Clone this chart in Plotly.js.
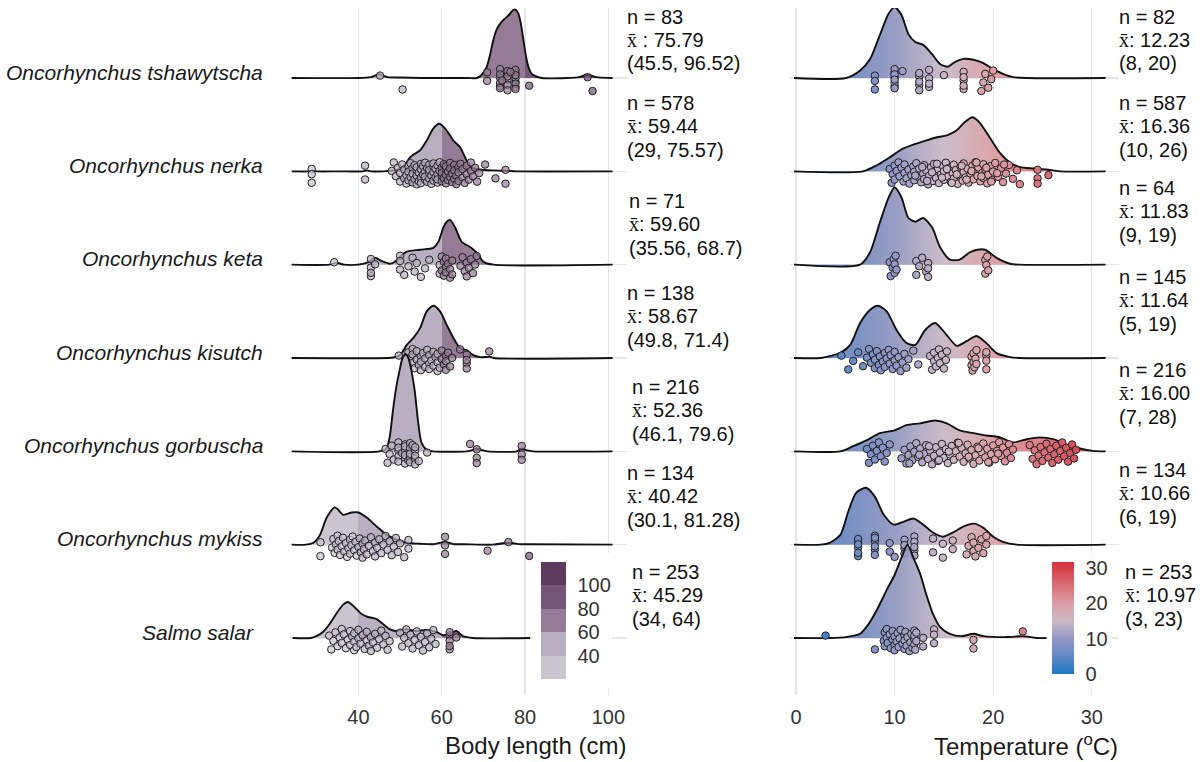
<!DOCTYPE html>
<html>
<head>
<meta charset="utf-8">
<script src="https://cdn.plot.ly/plotly-3.0.1.min.js"></script>
<style>
  html, body { margin: 0; padding: 0; background: #ffffff; }
  #chart { width: 1202px; height: 762px; }
</style>
</head>
<body>
<div id="chart"></div>
<script>
// ---------- species (top to bottom) ----------
const species = [
  'Oncorhynchus tshawytscha', 'Oncorhynchus nerka', 'Oncorhynchus keta',
  'Oncorhynchus kisutch', 'Oncorhynchus gorbuscha', 'Oncorhynchus mykiss', 'Salmo salar'
];

// ---------- summary statistics ----------
const lenN    = [83, 578, 71, 138, 216, 134, 253];
const lenMean = [75.79, 59.44, 59.60, 58.67, 52.36, 40.42, 45.29];
const lenMin  = [45.5, 29, 35.56, 49.8, 46.1, 30.1, 34];
const lenMax  = [96.52, 75.57, 68.7, 71.4, 79.6, 81.28, 64];

const tempN    = [82, 587, 64, 145, 216, 134, 253];
const tempMean = [12.23, 16.36, 11.83, 11.64, 16.00, 10.66, 10.97];
const tempMin  = [8, 10, 9, 5, 7, 6, 3];
const tempMax  = [20, 26, 19, 19, 28, 19, 23];

// ---------- body length: ridge densities (height in row units) ----------
const lenTshaX = [24,40,43,45,47,50,55,66,68.4,69.5,70.8,71.6,72.4,73.2,74,75,76,77.2,77.8,78.4,79,79.6,80.2,80.8,81.5,82.5,84,90,93,95,97,101];
const lenTshaH = [0,0,0.01,0.04,0.01,0.005,0,0,0,0.03,0.12,0.25,0.41,0.52,0.58,0.63,0.67,0.73,0.73,0.69,0.58,0.41,0.24,0.12,0.05,0.02,0,0,0.01,0.035,0.01,0];
const lenNerkX = [24,28,29,30,35,41,42,43,46,48.4,50,51.2,52.4,53.6,54.8,56.4,58,59.4,60.8,62,62.8,64.4,65.6,66.4,67.2,69.2,72.4,75.6,78,101];
const lenNerkH = [0,0,0.01,0,0,0,0.01,0,0,0.01,0.03,0.075,0.15,0.19,0.225,0.33,0.46,0.51,0.46,0.385,0.33,0.26,0.15,0.085,0.04,0.02,0.01,0.005,0,0];
const lenKetaX = [24,33,34.8,36.5,40,42.5,44,45.5,47.6,49,50,51.6,54.8,58,59.2,60.4,61.2,62,63.2,64.8,66.8,68.4,70,72.4,101];
const lenKetaH = [0,0,0.02,0,0,0.03,0.075,0.04,0.01,0.04,0.085,0.14,0.16,0.18,0.245,0.4,0.46,0.48,0.4,0.245,0.19,0.13,0.03,0,0];
const lenKisuX = [24,47,48.4,50,51.6,53.2,54.8,56.4,58,59.6,61.2,62.8,64.4,66,67.6,69.2,70.5,71.5,72.5,101];
const lenKisuH = [0,0,0.005,0.03,0.14,0.215,0.32,0.5,0.56,0.5,0.355,0.215,0.105,0.085,0.03,0.01,0.01,0.015,0,0];
const lenGorbX = [24,45,46.7,47.5,48.3,49.1,49.9,50.6,51.3,52,52.7,53.5,54.3,55.1,56.3,57.9,66,67.5,68.4,69.5,71,78,79.2,80.5,82,101];
const lenGorbH = [0,0,0.03,0.15,0.44,0.69,0.87,1.0,1.04,1.0,0.87,0.655,0.33,0.1,0.02,0,0,0.015,0.03,0.015,0,0,0.03,0.01,0,0];
const lenMykiX = [24,27.5,29.2,30.8,32.4,34.4,36.4,38.4,40,42,44.4,46.8,49.2,51.6,54.8,58,60.8,63,65.2,72,76,79,81.2,101];
const lenMykiH = [0,0,0.02,0.105,0.29,0.4,0.32,0.345,0.345,0.29,0.195,0.105,0.055,0.02,0.01,0.005,0.03,0.005,0.005,0,0.02,0.005,0.005,0];
const lenSalaX = [24.2,28.5,29.9,31.5,33.1,34.7,36.3,37.5,39.1,40.7,42.3,44.3,45.9,47.5,49.1,51.5,53.9,56.3,58.7,60.3,61.9,63.5,65.1,67.5,81.2];
const lenSalaH = [0,0,0.02,0.065,0.15,0.26,0.355,0.385,0.33,0.26,0.225,0.205,0.15,0.095,0.075,0.095,0.075,0.085,0.065,0.03,0.045,0.075,0.02,0,0];

// ---------- body length: observations ----------
const lenTshaPts = [45.2,50.6,70.9,70.9,74,74,74,74,74,74,75.8,75.8,75.8,75.8,75.8,77.7,77.7,77.7,77.7,77.7,77.7,77.7,77.7,74.5,76.5,81,95,96.2];
const lenNerkPts = [28.8,28.8,28.8,41.6,41.6,48,48.5,49,49.5,50,50,50.5,51,51,51.5,51.5,52,52,52,52.5,52.5,53,53,53,53.5,53.5,54,54,54,54,54.5,54.5,55,55,55,55,55.5,55.5,56,56,56,56,56.5,56.5,57,57,57,57,57.5,57.5,58,58,58,58,58.5,58.5,59,59,59,59,59.5,59.5,60,60,60,60,60.5,60.5,61,61,61,61,61.5,61.5,62,62,62,62.5,62.5,63,63,63,63.5,63.5,64,64,64,64.5,65,65,65.5,66,66,66.5,67,67,67.5,68,68.5,69,70.4,72.9,75.3,75.3];
const lenKetaPts = [34.2,43,43,43,43,44,50,50,50,51,52,53,53.5,54,55,56,57,59.5,59.5,60,60,60.5,60.5,61,61,61,61.5,62,62,62.5,62.5,64.5,65,65.5,66,66,66.5,67,67.5,68,68.4];
const lenKisuPts = [49.7,51,51.5,52,52,52.5,53,53,53,53.5,54,54,54.5,55,55,55,55.5,56,56,56.5,57,57,57,57.5,58,58,58.5,59,59,59,59.5,60,60,60.5,61,61,61,61.5,62,62.5,64.4,66,66,66,66,71.4];
const lenGorbPts = [46.5,47,47.5,48,48.5,49.6,49.6,49.6,49.6,49.6,50.5,51.2,51.2,51.2,51.2,51.2,51.2,52,52.4,52.4,52.4,52.4,52.4,52.4,53,53.6,53.6,53.6,53.6,53.6,54.5,56.5,66.8,68.4,68.4,68.4,79.2,79.2,79.2];
const lenMykiPts = [30.9,30.9,33.7,34,34.3,34.6,35,35,35.3,35.6,36,36.3,36.6,37,37.3,37.6,38,38,38.3,38.6,39,39.3,39.6,40,40.3,40.6,41,41,41.3,41.6,42,42.5,43,43.5,44,44,44.5,45,45.5,46,46.5,47,47.5,48,48.5,49,49.5,50,51,52,52,60.8,60.8,60.8,71,76,81];
const lenSalaPts = [33,33.5,34,34.5,35,35.5,36,36,36.5,37,37.5,38,38,38.5,39,39,39,39.5,40,40,40.5,41,41.5,42,42,42.5,43,43,43.5,44,44.5,45,45.5,46,46.5,47,47.5,50,50.5,51,51.5,52,52.5,53,53.5,54,54.5,55,55.5,56,56.5,57,57.5,58,58.5,61.9,61.9,61.9,61.9,61.9,63.5];

// ---------- temperature: ridge densities ----------
const tmpTshaX = [-0.2,5.1,6.5,7.5,8.5,9.4,10,10.7,11.4,12.1,12.9,13.8,14.6,15.4,16.1,17,18,19,20,21,22,23.4,31.4];
const tmpTshaH = [0,0,0.08,0.2,0.46,0.69,0.76,0.675,0.47,0.385,0.355,0.255,0.15,0.12,0.17,0.205,0.195,0.16,0.095,0.045,0.01,0,0];
const tmpNerkX = [-0.2,6.8,8.2,9.5,10.9,12.6,14.3,15.3,16.3,17.1,17.9,18.6,19.7,20.7,21.7,22.7,24.1,25.4,26.8,31.4];
const tmpNerkH = [0,0,0.065,0.15,0.245,0.31,0.365,0.385,0.44,0.525,0.58,0.525,0.355,0.195,0.095,0.045,0.03,0.02,0,0];
const tmpKetaX = [-0.2,6.5,7.5,8.5,9.4,10,10.7,11.4,12.1,12.9,13.8,14.6,15.6,16.6,17.6,18.4,19.2,20.3,21.7,22.7,31.4];
const tmpKetaH = [0,0,0.13,0.45,0.72,0.83,0.72,0.5,0.46,0.5,0.4,0.19,0.055,0.055,0.13,0.16,0.16,0.075,0.01,0,0];
const tmpKisuX = [-0.2,2.5,3.4,4.5,5.5,6.5,7.5,8.3,9.2,10.2,11.2,12.1,13.1,14.1,15.1,16.3,17.3,18.3,19.3,20.3,21.7,22.7,31.4];
const tmpKisuH = [0,0,0.02,0.055,0.14,0.375,0.515,0.56,0.5,0.3,0.16,0.14,0.3,0.375,0.27,0.13,0.18,0.235,0.16,0.055,0.01,0,0];
const tmpGorbX = [-0.2,4.5,5.8,7.2,8.5,10,11.2,12.6,14.1,15.3,16.6,18,19.3,20.7,22,23.4,24.7,26.1,27.4,28.8,30.1,31.4];
const tmpGorbH = [0,0,0.055,0.12,0.195,0.225,0.28,0.3,0.33,0.3,0.225,0.195,0.17,0.15,0.095,0.13,0.15,0.13,0.075,0.03,0.005,0];
const tmpMykiX = [-0.2,2.5,3.4,4.5,5.3,6.1,7.1,8,8.9,9.9,10.9,11.9,12.9,13.9,14.9,15.9,17,18,19,20,21,22.4,31.4];
const tmpMykiH = [0,0,0.02,0.105,0.355,0.555,0.61,0.515,0.32,0.215,0.245,0.28,0.215,0.13,0.085,0.13,0.195,0.225,0.18,0.085,0.03,0,0];
const tmpSalaX = [-0.2,3.4,5.1,6.5,7.3,8.2,9.2,10,10.7,11.3,11.9,12.6,13.2,13.9,14.6,15.6,16.8,18,19,21.4,23,24.4,25.4];
const tmpSalaH = [0,0,0.01,0.045,0.14,0.3,0.515,0.675,0.86,1.0,0.86,0.685,0.47,0.255,0.12,0.045,0.02,0.045,0.02,0.01,0.02,0,0];

// ---------- temperature: observations ----------
const tmpTshaPts = [8,8,8,10,10,10,10,10,10,10,10,10.8,12.5,12.5,12.5,12.5,12.5,13.5,13.5,13.5,13.5,15,17,17,17,17,17,18.8,19,19.2,19.5,19.8,20];
const tmpNerkPts = [9.5,9.7,9.8,10,10,10.2,10.4,10.5,10.7,10.9,11,11,11.2,11.4,11.5,11.7,11.9,12,12,12.2,12.4,12.5,12.7,12.9,13,13,13.2,13.4,13.5,13.7,13.9,14,14,14.2,14.4,14.5,14.7,14.9,15,15,15.2,15.4,15.5,15.7,15.9,16,16,16.2,16.4,16.5,16.7,16.9,17,17,17.2,17.4,17.5,17.7,17.9,18,18,18.2,18.4,18.5,18.7,18.9,19,19,19.2,19.4,19.5,19.7,19.9,20,20.2,20.5,20.8,21,21.3,21.6,22,22.4,22.7,12.1,12.8,13.3,13.8,14.3,14.8,15.3,15.8,16.3,16.8,17.3,17.8,18.3,18.8,19.3,19.8,20.4,21.1,24.5,24.5,24.5,25.6];
const tmpKetaPts = [9.5,9.6,9.8,9.9,10,10,10.1,10.2,12.2,12.2,12.5,12.8,13.2,13.4,13.4,13.4,19.2,19.2,19.3,19.4,19.5];
const tmpKisuPts = [4.6,5.3,5.8,6.3,6.8,7.2,7.4,7.6,7.8,8,8,8.2,8.4,8.5,8.6,8.8,9,9,9.2,9.4,9.5,9.6,9.8,10,10,10.2,10.4,10.6,10.8,11,11.2,11.4,11.9,12.4,13.6,13.8,14,14,14.2,14.4,14.5,14.6,14.8,15,15.2,15.3,17.8,17.8,17.9,18,18,18.1,18.2,18.3,18.3,19.3,19.3,19.3,19.3];
const tmpGorbPts = [7.2,7.4,7.6,7.8,8,8.2,8.4,8.6,8.8,9,9.2,9.5,10.7,11,11.2,11.4,11.6,11.8,12,12.2,12.4,12.6,12.8,13,13.2,13.4,13.6,13.8,14,14.2,14.4,14.6,14.8,15,15.2,15.4,15.6,15.8,16,16.2,16.4,16.6,16.8,17,17.2,17.4,17.6,17.8,18,18.2,18.4,18.6,18.8,19,19.2,19.4,19.6,19.8,20,20.2,20.4,20.6,20.8,21,21.2,21.4,21.6,21.8,22,11.5,12.5,13.5,14.5,15.5,16.5,17.5,18.5,19.5,20.5,23.7,24,24.2,24.4,24.6,24.8,25,25.2,25.4,25.6,25.8,26,26.2,26.4,26.6,26.8,27,27.2,27.4,27.6,27.8,28,28.2,28.4];
const tmpMykiPts = [6.3,6.3,6.3,6.3,6.3,6.3,8,8,8,8,8,8,9.5,9.5,10,11,11,11,11,12,12,12,12,12,13.9,13.9,14.9,14.9,15.9,15.9,17.3,17.5,17.8,18,18,18.2,18.5,18.8,19,19.3,19.3];
const tmpSalaPts = [3,8,8.9,9,9,9.2,9.2,9.3,9.5,9.6,9.8,9.8,10,10,10,10.2,10.3,10.4,10.5,10.6,10.8,11,11,11,11.1,11.2,11.3,11.5,11.6,11.7,11.8,12,12,12,12,12.1,12.2,12.2,12.9,12.9,14,14,14,18,18,23];

// ---------- styling ----------
const FONT = 'Liberation Sans, Arial, Helvetica, sans-serif';
const N_ROWS = species.length;

// binned purple scale for body length (20..120, bins of 20)
const LEN_MIN = 20, LEN_MAX = 120;
const lenBins = ['#c9c5d1', '#b8b0c0', '#957b95', '#75557a', '#5e3a5e'];
function stepScale(cols, alpha) {
  const out = [];
  cols.forEach((c, k) => {
    const r = parseInt(c.slice(1, 3), 16), g = parseInt(c.slice(3, 5), 16), b = parseInt(c.slice(5, 7), 16);
    const col = 'rgba(' + r + ',' + g + ',' + b + ',' + alpha + ')';
    out.push([k / cols.length, col], [(k + 1) / cols.length, col]);
  });
  return out;
}
const lenScale = stepScale(lenBins, 1);
const lenPointScale = stepScale(lenBins, 0.72);

// blue-grey-red scale for temperature
const TMP_MIN = 0, TMP_MAX = 31.7;
const tmpScale = [
  [0.0, '#1b78c4'], [0.16, '#6389c4'], [0.32, '#9599c8'],
  [0.47, '#cbb8c6'], [0.63, '#dc9fa6'], [0.8, '#da6c74'], [1.0, '#d62f3c']
];
const tmpFillScale = [
  [0.0, 'rgba(60,112,184,0.88)'], [0.16, 'rgba(98,128,186,0.88)'], [0.32, 'rgba(139,145,188,0.88)'],
  [0.47, 'rgba(196,180,194,0.88)'], [0.63, 'rgba(216,152,158,0.88)'], [0.8, 'rgba(216,104,112,0.9)'],
  [1.0, 'rgba(212,50,62,0.92)']
];

const lenRows = [
  [lenTshaX, lenTshaH, lenTshaPts], [lenNerkX, lenNerkH, lenNerkPts],
  [lenKetaX, lenKetaH, lenKetaPts], [lenKisuX, lenKisuH, lenKisuPts],
  [lenGorbX, lenGorbH, lenGorbPts], [lenMykiX, lenMykiH, lenMykiPts],
  [lenSalaX, lenSalaH, lenSalaPts]
];
const tmpRows = [
  [tmpTshaX, tmpTshaH, tmpTshaPts], [tmpNerkX, tmpNerkH, tmpNerkPts],
  [tmpKetaX, tmpKetaH, tmpKetaPts], [tmpKisuX, tmpKisuH, tmpKisuPts],
  [tmpGorbX, tmpGorbH, tmpGorbPts], [tmpMykiX, tmpMykiH, tmpMykiPts],
  [tmpSalaX, tmpSalaH, tmpSalaPts]
];

// deterministic vertical spread for the point strips
function spread(k) {
  const f = (k * 0.6180339887 + 0.31) % 1;
  return 0.10 - 0.24 * f;
}

function buildPanel(rows, xa, ya, fillScale, pointScale, cmin, cmax) {
  const traces = [];
  rows.forEach((r, i) => {
    const [xs, hs, pts] = r;
    const base = N_ROWS - 1 - i;
    traces.push({
      type: 'scatter', mode: 'lines', xaxis: xa, yaxis: ya,
      x: xs, y: xs.map(() => base),
      line: { width: 0, color: 'rgba(0,0,0,0)' },
      hoverinfo: 'skip', showlegend: false
    });
    traces.push({
      type: 'scatter', mode: 'lines', xaxis: xa, yaxis: ya,
      x: xs, y: hs.map(h => base + h),
      fill: 'tonexty',
      fillcolor: 'rgba(160,150,170,0.9)',
      fillgradient: { type: 'horizontal', colorscale: fillScale, start: cmin, stop: cmax },
      line: { color: '#111111', width: 1.9, shape: 'spline', smoothing: 0.7 },
      hoverinfo: 'skip', showlegend: false
    });
    traces.push({
      type: 'scatter', mode: 'markers', xaxis: xa, yaxis: ya,
      x: pts, y: pts.map((v, k) => base + spread(k)),
      marker: {
        size: 7.5, color: pts, colorscale: pointScale, cmin: cmin, cmax: cmax,
        line: { color: '#222222', width: 1 }, showscale: false
      },
      hoverinfo: 'x', showlegend: false
    });
  });
  return traces;
}

// plot area spans py 8 .. 695 inside a 762px-tall figure
const TOP = 8, BOTTOM = 695, H = 762, W = 1202;
const PH = BOTTOM - TOP;
const ROW_PX = 93.33;
const py2paper = py => (BOTTOM - py) / PH;

const LEN_BAR_TOP = 562, LEN_BAR_BOT = 679;
const TMP_BAR_TOP = 562, TMP_BAR_BOT = 674;

// colour keys (carrier traces with no drawn points)
function keyTrace(xa, ya, scale, cmin, cmax, bar) {
  return {
    type: 'scatter', mode: 'markers', xaxis: xa, yaxis: ya,
    x: [cmin, cmax], y: [null, null],
    marker: { color: [cmin, cmax], colorscale: scale, cmin: cmin, cmax: cmax, showscale: true, colorbar: bar, size: 1 },
    hoverinfo: 'skip', showlegend: false
  };
}
const lenBar = {
  x: 541 / W, xanchor: 'left', xpad: 0, ypad: 0,
  y: py2paper(LEN_BAR_BOT), yanchor: 'bottom', len: (LEN_BAR_BOT - LEN_BAR_TOP) / PH, lenmode: 'fraction',
  thickness: 25, outlinewidth: 0,
  tickvals: [40, 60, 80, 100], ticks: 'outside', ticklen: 8, tickcolor: 'rgba(0,0,0,0)',
  tickfont: { family: FONT, size: 20, color: '#333333' }
};
const tmpBar = {
  x: 1052 / W, xanchor: 'left', xpad: 0, ypad: 0,
  y: py2paper(TMP_BAR_BOT), yanchor: 'bottom', len: (TMP_BAR_BOT - TMP_BAR_TOP) / PH, lenmode: 'fraction',
  thickness: 22, outlinewidth: 0,
  tickvals: [0, 10, 20, 30], ticks: 'outside', ticklen: 8, tickcolor: 'rgba(0,0,0,0)',
  tickfont: { family: FONT, size: 20, color: '#333333' }
};

const data = [].concat(
  buildPanel(lenRows, 'x', 'y', lenScale, lenPointScale, LEN_MIN, LEN_MAX),
  buildPanel(tmpRows, 'x2', 'y2', tmpFillScale, tmpScale, TMP_MIN, TMP_MAX),
  [keyTrace('x', 'y', lenScale, LEN_MIN, LEN_MAX, lenBar),
   keyTrace('x2', 'y2', tmpScale, TMP_MIN, TMP_MAX, tmpBar)]
);

// white backgrounds behind both colour keys, then small white marks in the temperature key
const shapes = [
  { type: 'rect', xref: 'paper', yref: 'paper', layer: 'above',
    x0: 533 / W, x1: 612 / W, y0: py2paper(688), y1: py2paper(553),
    fillcolor: '#ffffff', line: { width: 0 } },
  { type: 'rect', xref: 'paper', yref: 'paper', layer: 'above',
    x0: 1048 / W, x1: 1112 / W, y0: py2paper(688), y1: py2paper(553),
    fillcolor: '#ffffff', line: { width: 0 } }
];
[10, 20, 30].forEach(v => {
  const py = TMP_BAR_BOT - (v - TMP_MIN) / (TMP_MAX - TMP_MIN) * (TMP_BAR_BOT - TMP_BAR_TOP);
  [[1052, 1056], [1070, 1074]].forEach(([a, b]) => shapes.push({
    type: 'line', xref: 'paper', yref: 'paper', layer: 'above',
    x0: a / W, x1: b / W, y0: py2paper(py), y1: py2paper(py),
    line: { color: 'rgba(255,255,255,0.85)', width: 1.2 }
  }));
});

// ---------- text ----------
const XBAR = '<span style="font-family:Liberation Serif, serif">x\u0304</span>';
const annotations = [];
const labelRight = [265, 265, 265, 265, 265, 265, 256];
const lenTextX = [625, 625, 627, 625, 630, 625, 630];
const tmpTextX = [1117, 1117, 1117, 1117, 1117, 1117, 1123];
const lenTextTop = [16.7, 103, 201, 293, 387, 473, 572];
const tmpTextTop = [16.7, 103, 188, 277, 370, 470, 572];
const LINE_PX = 23.3;

function statBlock(x, top, lines) {
  lines.forEach((t, j) => annotations.push({
    xref: 'paper', yref: 'paper', x: x / W, y: py2paper(top + j * LINE_PX),
    xanchor: 'left', yanchor: 'middle', align: 'left', showarrow: false,
    text: t, font: { family: FONT, size: 20, color: '#111111' }
  }));
}

species.forEach((s, i) => {
  const base = N_ROWS - 1 - i;
  annotations.push({
    xref: 'paper', yref: 'y', x: labelRight[i] / W, y: base, xanchor: 'right', yanchor: 'middle',
    yshift: 6, text: s, showarrow: false,
    font: { family: FONT, size: 21, color: '#1a1a1a', style: 'italic' }
  });
  const sep = i === 0 ? ' : ' : ': ';
  statBlock(lenTextX[i], lenTextTop[i], [
    'n = ' + lenN[i],
    XBAR + sep + lenMean[i].toFixed(2),
    '(' + lenMin[i] + ', ' + lenMax[i] + ')'
  ]);
  statBlock(tmpTextX[i], tmpTextTop[i], [
    'n = ' + tempN[i],
    XBAR + ': ' + tempMean[i].toFixed(2),
    '(' + tempMin[i] + ', ' + tempMax[i] + ')'
  ]);
});
annotations.push({
  xref: 'paper', yref: 'paper', x: 535 / W, y: py2paper(745),
  xanchor: 'center', yanchor: 'middle', showarrow: false,
  text: 'Body length (cm)', font: { family: FONT, size: 24, color: '#1a1a1a' }
});
annotations.push({
  xref: 'paper', yref: 'paper', x: 1026 / W, y: py2paper(745),
  xanchor: 'center', yanchor: 'middle', showarrow: false,
  text: 'Temperature (<sup>o</sup>C)', font: { family: FONT, size: 24, color: '#1a1a1a' }
});

// ---------- axes ----------
const yRange = [-(BOTTOM - 638) / ROW_PX, 6 + (78 - TOP) / ROW_PX];
const yCommon = {
  range: yRange, domain: [0, 1], showticklabels: false, ticks: '',
  tickvals: [0, 1, 2, 3, 4, 5, 6], showgrid: true, gridcolor: '#e6e6e6', gridwidth: 1.3,
  zeroline: false, showline: false, fixedrange: true
};
const xCommon = {
  showgrid: true, gridcolor: '#e6e6e6', gridwidth: 1.3, zeroline: false, showline: false,
  ticks: '', ticklabelstandoff: 8, tickfont: { family: FONT, size: 20, color: '#333333' },
  fixedrange: true
};

const layout = {
  width: W, height: H,
  margin: { l: 0, r: 0, t: TOP, b: H - BOTTOM },
  paper_bgcolor: '#ffffff', plot_bgcolor: '#ffffff',
  showlegend: false,
  xaxis: Object.assign({}, xCommon, {
    domain: [290 / W, 627 / W], anchor: 'y',
    range: [(290 - 191.7) / 4.167, (627 - 191.7) / 4.167],
    tickvals: [40, 60, 80, 100]
  }),
  yaxis: Object.assign({}, yCommon, { anchor: 'x' }),
  xaxis2: Object.assign({}, xCommon, {
    domain: [790 / W, 1119 / W], anchor: 'y2',
    range: [(790 - 796) / 9.86, (1119 - 796) / 9.86],
    tickvals: [0, 10, 20, 30]
  }),
  yaxis2: Object.assign({}, yCommon, { anchor: 'x2' }),
  annotations: annotations,
  shapes: shapes,
  font: { family: FONT }
};

Plotly.newPlot('chart', data, layout, { displayModeBar: false, staticPlot: true });
</script>
</body>
</html>
